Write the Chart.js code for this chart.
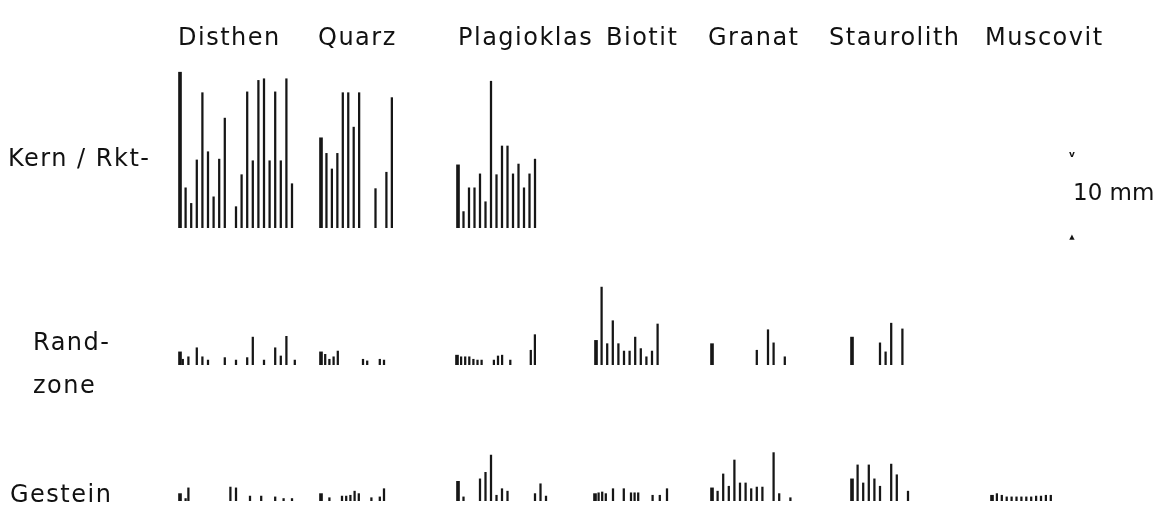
<!DOCTYPE html>
<html>
<head>
<meta charset="utf-8">
<script src="https://cdn.jsdelivr.net/npm/chart.js@4.4.1/dist/chart.umd.min.js"></script>
<style>
    html, body { margin: 0; padding: 0; background: #fff; }
    #wrap { width: 1166px; height: 506px; }
</style>
</head>
<body>
<div id="wrap"><canvas id="grainChart" width="1166" height="506"></canvas></div>
<script>
const _ = null;

const minerals = ["Disthen", "Quarz", "Plagioklas", "Biotit", "Granat", "Staurolith", "Muscovit"];
const rowLabels = [["Kern / Rkt-"], ["Rand-", "zone"], ["Gestein"]];
const scaleLabel = "10 mm";

// grain lengths in mm, one slot per grain position, _ = empty slot
const kernDisthen = [19.0, 4.9, 3.0, 8.3, 16.5, 9.3, 3.8, 8.4, 13.4, _, 2.6, 6.5, 16.6, 8.2, 18.0, 18.2, 8.2, 16.6, 8.2, 18.2, 5.4];
const kernQuarz = [11.0, 9.1, 7.2, 9.1, 16.5, 16.5, 12.3, 16.5, _, _, 4.8, _, 6.8, 15.9];
const kernPlagioklas = [7.7, 2.0, 4.9, 4.9, 6.6, 3.2, 17.9, 6.5, 10.0, 10.0, 6.6, 7.8, 4.9, 6.6, 8.4];

const randDisthen = [1.6, 0.7, _, 1.0, _, _, 2.1, _, 1.0, _,
    0.6, _, _, _, _, _, 0.9, _, _, _,
    0.6, _, _, _, 0.9, _, 3.4, _, _, _,
    0.6, _, _, _, 2.1, _, 1.1, _, 3.5, _,
    _, 0.6];
const randQuarz = [1.6, 1.3, 0.7, 1.0, 1.7, _, _, _, _, _, 0.7, 0.5, _, _, 0.7, 0.6];
const randPlagioklas = [1.2, 1.0, 1.0, 1.0, 0.7, 0.6, 0.6, _, _, 0.6, 1.1, 1.2, _, 0.6, _, _, _, _, 1.8, 3.7];
const randBiotit = [3.0, 9.5, 2.6, 5.4, 2.6, 1.7, 1.7, 3.4, 2.0, 1.0, 1.7, 5.0];
const randGranat = [2.6, _, _, _, _, _, _, _, 1.8, _, 4.3, 2.7, _, 1.0];
const randStaurolith = [3.4, _, _, _, _, 2.7, 1.6, 5.1, _, 4.4];

const gesteinDisthen = [0.9, _, 0.3, 1.6, _, _, _, _, _, _,
    _, _, _, _, _, _, _, _, 1.7, _,
    1.6, _, _, _, _, 0.6, _, _, _, 0.6,
    _, _, _, _, 0.5, _, _, 0.3, _, _,
    0.3];
const gesteinQuarz = [0.9, _, 0.4, _, _, 0.6, 0.6, 0.7, 1.2, 0.9, _, _, 0.4, _, 0.5, 1.5];
const gesteinPlagioklas = [2.4, 0.5, _, _, 2.7, 3.5, 5.6, 0.7, 1.5, 1.2, _, _, _, _, 0.9, 2.1, 0.6];
const gesteinBiotit = [0.9, 1.0, 1.1, 0.9, _, 1.5, _, _, 1.5, _, 1.0, 1.0, 1.0, _, _, _, 0.7, _, 0.7, _, 1.5];
const gesteinGranat = [1.6, 1.2, 3.3, 1.8, 5.0, 2.2, 2.2, 1.5, 1.7, 1.7, _, 5.9, 0.9, _, 0.4];
const gesteinStaurolith = [2.7, 4.4, 2.2, 4.4, 2.7, 1.8, _, 4.5, 3.2, _, 1.2];
const gesteinMuscovit = [0.7, 0.9, 0.7, 0.5, 0.5, 0.5, 0.5, 0.5, 0.5, 0.6, 0.6, 0.7, 0.7];

// where each strip sits on the plate (x in plate units) and its slot spacing
const strips = [
    {row: 0, values: kernDisthen, start: 180, step: 5.6},
    {row: 0, values: kernQuarz, start: 321, step: 5.45},
    {row: 0, values: kernPlagioklas, start: 458, step: 5.5},
    {row: 1, values: randDisthen, start: 180, step: 2.8},
    {row: 1, values: randQuarz, start: 321, step: 4.2},
    {row: 1, values: randPlagioklas, start: 457, step: 4.1},
    {row: 1, values: randBiotit, start: 596, step: 5.6},
    {row: 1, values: randGranat, start: 712, step: 5.6},
    {row: 1, values: randStaurolith, start: 852, step: 5.6},
    {row: 2, values: gesteinDisthen, start: 180, step: 2.8},
    {row: 2, values: gesteinQuarz, start: 321, step: 4.2},
    {row: 2, values: gesteinPlagioklas, start: 458, step: 5.5},
    {row: 2, values: gesteinBiotit, start: 595, step: 3.6},
    {row: 2, values: gesteinGranat, start: 712, step: 5.6},
    {row: 2, values: gesteinStaurolith, start: 852, step: 5.6},
    {row: 2, values: gesteinMuscovit, start: 992, step: 4.9}
];

const pxPerMm = 8.2;
const bandPx = [168, 137, 136];
const ink = "#161616";

const datasets = [];
const scales = {
    x: {type: "linear", min: 0, max: 1166, offset: false, display: false}
};

// stacked axes are laid out bottom-up, so the last row goes in first
for(let row = bandPx.length - 1; row >= 0; row--) {
    scales["y" + row] = {
        type: "linear",
        position: "left",
        stack: "rows",
        stackWeight: bandPx[row],
        min: 0,
        max: bandPx[row] / pxPerMm,
        display: false
    };
}

bandPx.forEach((band, row)=> {
    const thin = [], thick = [];
    for(let s of strips.filter(s => s.row === row)) {
        s.values.forEach((v, i)=> {
            if(v === null)
                return;
            (i === 0 ? thick : thin).push({x: s.start + i * s.step, y: v});
        });
    }

    for(let [data, w] of [[thin, 1.6], [thick, 3]])
        datasets.push({
            data: data,
            yAxisID: "y" + row,
            barThickness: w,
            backgroundColor: ink,
            borderWidth: 0,
            grouped: false
        });
});

const plateLabels = {
    id: "plateLabels",
    afterDraw(chart) {
        const c = chart.ctx;
        c.save();
        c.fillStyle = "#111";
        c.textBaseline = "alphabetic";
        c.font = '24px "DejaVu Sans"';
        c.letterSpacing = "1.5px";

        const mineralX = [178, 318, 458, 606, 708, 829, 985];
        minerals.forEach((m, i)=> c.fillText(m, mineralX[i], 45));

        c.fillText(rowLabels[0][0], 8, 166);
        c.fillText(rowLabels[1][0], 33, 350);
        c.fillText(rowLabels[1][1], 33, 393);
        c.fillText(rowLabels[2][0], 10, 502);

        c.letterSpacing = "0px";
        c.font = '23px "DejaVu Sans"';
        c.fillText(scaleLabel, 1073, 200);

        c.font = 'bold 9px "DejaVu Sans"';
        c.textAlign = "center";
        c.fillText("v", 1072, 157);
        c.font = '7px "DejaVu Sans"';
        c.fillText("▲", 1072, 239);
        c.restore();
    }
};

const chart = new Chart(document.getElementById("grainChart"), {
    type: "bar",
    data: {datasets: datasets},
    options: {
        responsive: false,
        animation: false,
        layout: {padding: {top: 60, bottom: 5, left: 0, right: 0}},
        scales: scales,
        plugins: {
            legend: {display: false},
            tooltip: {enabled: false}
        }
    },
    plugins: [plateLabels]
});
</script>
</body>
</html>
